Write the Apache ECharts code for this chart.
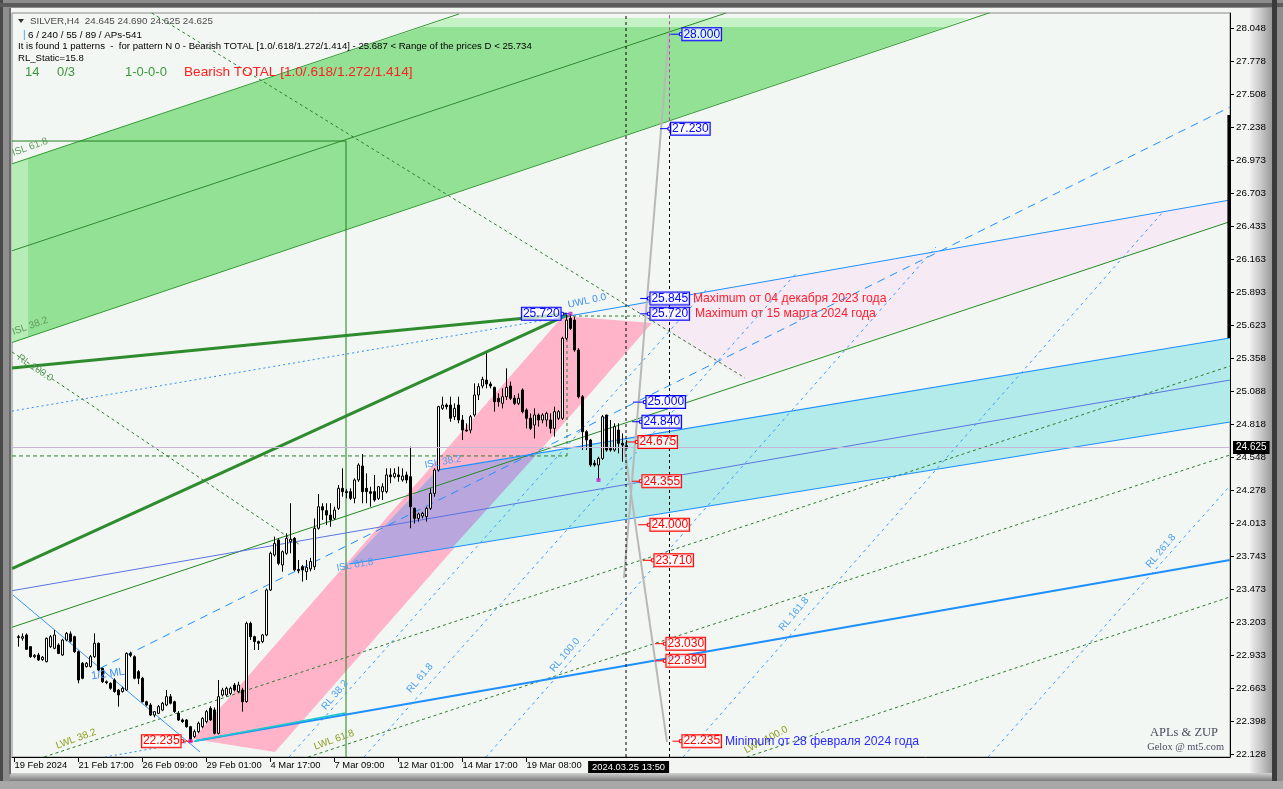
<!DOCTYPE html>
<html><head><meta charset="utf-8">
<script src="https://cdn.jsdelivr.net/npm/echarts@6/dist/echarts.min.js"></script>
<style>html,body{margin:0;padding:0;background:#8e8e8e;}#c{width:1283px;height:789px;}</style>
</head><body><div id="c"></div>
<script>
// ---------- DATA ----------
const xTickValues = [-1, 15, 31, 47, 63, 79, 95, 111, 127];
const xTickLabels = ['19 Feb 2024','21 Feb 17:00','26 Feb 09:00','29 Feb 01:00','4 Mar 17:00','7 Mar 09:00','12 Mar 01:00','14 Mar 17:00','19 Mar 08:00'];
const cursorTime = '2024.03.25 13:50';
const cursorBar = 151.875;
const cursorLabelAt = 142.4;
const yTicks = [28.048,27.778,27.508,27.238,26.973,26.703,26.433,26.163,25.893,25.623,25.358,25.088,24.818,24.548,24.278,24.013,23.743,23.473,23.203,22.933,22.663,22.398,22.128];

// candles: [open, close, low, high], bar index = position in array
const candles = [
[23.087,23.080,23.006,23.101],[23.074,23.087,23.055,23.114],[23.101,22.984,22.979,23.114],[23.006,22.924,22.915,23.010],
[22.924,22.935,22.911,22.945],[22.938,22.897,22.890,22.955],[22.900,22.920,22.890,22.930],[22.883,23.074,22.878,23.080],
[23.006,23.087,22.995,23.101],[22.992,23.101,22.985,23.142],[23.019,22.951,22.945,23.033],[22.938,23.060,22.930,23.070],
[23.060,23.114,23.050,23.125],[23.110,23.050,23.040,23.130],[23.087,22.965,22.955,23.095],[22.965,22.734,22.707,22.975],
[22.870,22.748,22.740,22.880],[22.843,22.870,22.835,22.880],[22.843,22.924,22.835,22.938],[22.924,23.033,22.915,23.114],
[23.033,22.815,22.805,23.040],[22.829,22.720,22.710,22.835],[22.720,22.712,22.700,22.730],[22.707,22.666,22.655,22.715],
[22.734,22.640,22.630,22.748],[22.652,22.612,22.517,22.660],[22.640,22.666,22.630,22.680],[22.652,22.951,22.645,22.960],
[22.951,22.935,22.920,22.965],[22.924,22.748,22.740,22.935],[22.802,22.748,22.700,22.815],[22.748,22.557,22.550,22.760],
[22.557,22.530,22.520,22.565],[22.530,22.448,22.440,22.545],[22.448,22.476,22.430,22.480],[22.462,22.517,22.455,22.530],
[22.489,22.544,22.480,22.555],[22.530,22.598,22.520,22.652],[22.598,22.544,22.535,22.620],[22.557,22.476,22.465,22.565],
[22.462,22.408,22.400,22.480],[22.408,22.394,22.385,22.420],[22.408,22.353,22.345,22.415],[22.353,22.250,22.235,22.360],
[22.272,22.313,22.260,22.330],[22.313,22.381,22.300,22.395],[22.353,22.421,22.340,22.430],[22.394,22.476,22.380,22.490],
[22.503,22.408,22.400,22.520],[22.490,22.299,22.290,22.510],[22.299,22.598,22.290,22.734],[22.612,22.652,22.600,22.670],
[22.612,22.666,22.600,22.680],[22.625,22.666,22.610,22.680],[22.693,22.652,22.640,22.710],[22.639,22.693,22.630,22.720],
[22.652,22.557,22.476,22.670],[22.557,23.196,22.550,23.210],[23.196,23.087,23.060,23.210],[23.087,23.047,22.979,23.095],
[23.047,23.033,22.979,23.055],[23.047,23.101,23.035,23.110],[23.101,23.468,23.090,23.480],[23.468,23.767,23.460,23.780],
[23.753,23.848,23.740,23.903],[23.875,23.685,23.670,23.890],
[23.672,23.780,23.617,23.790],[23.767,23.889,23.755,23.930],[23.862,23.881,23.767,24.175],[23.889,23.631,23.620,23.900],
[23.636,23.625,23.604,23.712],[23.658,23.631,23.536,23.672],[23.617,23.653,23.549,23.712],[23.640,23.700,23.620,23.730],
[23.658,23.971,23.631,24.052],[23.971,24.147,23.960,24.251],[24.147,24.120,24.039,24.175],[24.115,24.079,23.998,24.175],
[24.079,24.039,23.984,24.175],[24.052,24.120,24.039,24.147],[24.134,24.297,24.120,24.324],[24.297,24.270,24.229,24.460],
[24.270,24.262,24.215,24.290],[24.270,24.215,24.202,24.297],[24.215,24.365,24.175,24.378],[24.365,24.487,24.350,24.501],
[24.479,24.270,24.175,24.577],[24.297,24.270,24.175,24.419],[24.270,24.256,24.147,24.310],[24.270,24.202,24.188,24.406],
[24.215,24.310,24.202,24.315],[24.270,24.310,24.202,24.338],[24.270,24.406,24.256,24.460],[24.406,24.392,24.338,24.460],
[24.392,24.419,24.378,24.460],[24.406,24.392,24.351,24.474],[24.365,24.397,24.351,24.460],[24.406,24.365,24.338,24.433],
[24.392,24.147,23.971,24.637],[24.134,24.052,24.010,24.140],[24.052,24.088,24.025,24.098],[24.071,24.093,24.052,24.105],
[24.066,24.134,24.025,24.147],[24.134,24.256,24.120,24.297],[24.256,24.446,24.229,24.460],
[24.446,24.963,24.433,24.970],[24.949,24.976,24.936,25.044],[24.976,24.963,24.940,24.990],[24.976,24.868,24.840,25.044],
[24.881,24.949,24.854,24.990],[24.976,24.854,24.827,25.044],[24.854,24.772,24.691,24.895],[24.772,24.765,24.759,24.827],
[24.772,24.881,24.745,24.895],[24.895,25.058,24.881,25.153],[25.058,25.126,25.017,25.153],[25.131,25.186,25.112,25.207],
[25.180,25.148,25.112,25.398],[25.148,25.131,25.112,25.167],[25.120,25.003,24.922,25.126],[25.031,25.003,24.963,25.071],
[24.990,25.044,24.949,25.112],[25.044,25.120,25.017,25.275],[25.131,25.031,25.017,25.167],[25.031,24.990,24.976,25.058],
[24.990,25.031,24.976,25.071],[25.099,24.922,24.908,25.112],[24.936,24.868,24.786,24.949],[24.868,24.786,24.772,24.908],
[24.813,24.895,24.704,24.949],[24.895,24.854,24.800,24.908],[24.854,24.895,24.827,24.908],[24.854,24.908,24.800,24.922],
[24.854,24.786,24.745,24.908],[24.786,24.922,24.718,24.963],[24.868,24.922,24.854,24.936],[24.868,25.520,24.854,25.533],
[25.520,25.669,25.506,25.710],[25.683,25.601,25.588,25.720],[25.669,25.425,25.411,25.697],[25.425,25.044,25.030,25.440],
[25.044,24.759,24.609,25.058],[24.759,24.691,24.609,24.770],[24.691,24.487,24.473,24.700],[24.501,24.487,24.473,24.528],
[24.487,24.541,24.365,24.555],[24.541,24.881,24.528,24.895],[24.895,24.609,24.596,24.895],[24.623,24.609,24.596,24.854],
[24.609,24.800,24.596,24.827],[24.772,24.664,24.582,24.827],[24.664,24.650,24.514,24.745],[24.645,24.625,24.625,24.690]
];

// overlay objects, points are [bar index, price]
const islUpper = [[-1.625,26.943],[110.125,28.165]];
const islLower = [[-1.625,25.486],[242.875,28.176]];
const islMid = [[-1.625,26.234],[176.9,28.173]];
const boxV = [[81.875,27.129],[81.875,22.106]];
const boxH = [[-1.625,27.129],[81.875,27.129]];
const greenDiag = [[33.3,28.173],[181.625,25.197]];
const thickA = [[-1.625,25.278],[137.125,25.718]];
const thickB = [[-1.625,23.643],[137.125,25.710]];
const uwlDotted = [[-1.625,24.927],[135.5,25.690]];
const uwlSolid = [[135.5,25.690],[302.875,26.648]];
const topDash = [[137.125,25.702],[155.375,25.702]];
const peakDrop = [[137.125,25.710],[137.125,24.553]];
const levelDash = [[-1.625,24.561],[137.125,24.561]];
const rlGreen = [[-1.625,25.409],[70.375,23.835]];
const greenLine = [[-1.625,23.164],[302.625,26.469]];
const lwl382 = [[6.4,22.106],[302.875,25.294]];
const lwl618 = [[72.4,22.106],[302.875,24.569]];
const lwl100 = [[182.1,22.106],[302.875,23.411]];
const cyanTop = [[104.625,24.446],[302.875,25.523]];
const cyanBottom = [[82.625,23.680],[302.875,24.838]];
const midBlue = [[-1.625,23.462],[302.875,25.180]];
const thickBlue = [[44.125,22.236],[302.875,23.713]];
const thickBlueLeft = [[21.625,22.106],[44.125,22.236]];
const halfML = [[20.375,22.829],[302.875,27.406]];
const descBlue = [[-1.375,23.427],[45.375,22.147]];
const tealLine = [[44.125,22.236],[81.625,22.465]];
const rl382 = [[67.625,22.106],[172.125,25.922]];
const rl618 = [[86.375,22.106],[194.375,26.049]];
const rl100 = [[116.875,22.106],[229.375,26.265]];
const rl1618 = [[166.125,22.106],[286.125,26.552]];
const rl2618 = [[242.375,22.106],[302.625,24.308]];
const zupUp = [[151.375,23.566],[162.625,28.010]];
const zupDown = [[151.375,24.650],[162.125,22.228]];
const vCursor1 = [[151.875,22.106],[151.875,28.173]];
const vCursor2 = [[162.75,22.106],[162.75,27.200]];
const vCursor2Top = [[162.75,27.200],[162.75,28.173]];
const rangeBar = [[302.6,27.341],[302.6,25.523]];

const greenBand = [[-1.625,26.943],[101.05,28.059],[231.7,28.059],[-1.625,25.486]];
const greenBandTop = [[101.05,28.059],[107.8,28.132],[237.6,28.132],[231.7,28.059]];
const greenBandEdge = [[-1.625,26.943],[2.375,26.986],[2.375,25.527],[-1.625,25.486]];
const pinkBand = [[136.125,25.702],[158.375,25.645],[64.125,22.147],[43.625,22.253]];
const cyanBand = [[82.625,23.680],[104.625,24.446],[302.875,25.523],[302.875,24.838]];
const overlapBand = [[82.625,23.680],[104.625,24.446],[129.625,24.577],[108.625,23.818]];
const lightPink = [[152.125,25.788],[302.875,26.648],[302.875,26.469],[181.625,25.172]];

const annoTexts = ['ISL 61.8','ISL 38.2','RL 100.0','UWL 0.0','1/2 ML','LWL 38.2','LWL 61.8','LWL 100.0','ISL 38.2','ISL 61.8','RL 38.2','RL 61.8','RL 100.0','RL 161.8','RL 261.8'];
const annoPos = [[2.875,27.080],[2.875,25.620],[4.125,25.278],[142.125,25.824],[22.375,22.783],[14.375,22.253],[78.875,22.245],[186.875,22.245],[106.125,24.512],[84.125,23.672],[79.125,22.612],[100.375,22.750],[136.625,22.938],[193.875,23.272],[285.625,23.786]];

// price tags: [tick start bar, box anchor bar, price]
const tagsBlue = [[163.0,165.6,28.000],[160.4,162.75,27.230],[155.4,157.6,25.845],[155.4,157.6,25.720],[153.6,156.6,25.000],[153.4,155.6,24.840],[137.6,135.9,25.720]];
const tagsRed = [[152.1,154.6,24.675],[153.4,155.6,24.355],[154.9,157.6,24.000],[156.1,158.6,23.710],[159.1,161.6,23.030],[159.1,161.6,22.890],[163.5,165.6,22.235],[43.6,40.9,22.235]];

const notes = ['Maximum от 04 декабря 2023 года','Maximum от 15 марта 2024 года','Minimum от 28 февраля 2024 года'];
const notePos = [[168.6,25.845],[169.1,25.720],[176.6,22.235]];
const extremeDots = [[138,25.720],[43,22.235],[145,24.365]];

// ---------- CHART ----------
const chart = echarts.init(document.getElementById('c'), null, {renderer:'canvas'});
const FONT = "'Liberation Sans', Arial, sans-serif";

function L(pts, color, width, type, z){
  return {type:'line', data:pts, symbol:'none', silent:true, clip:true, animation:false,
          lineStyle:{color:color, width:width, type:type||'solid'}, z:z||2};
}
function P(pts, color, z){
  return {type:'custom', clip:true, silent:true, z:z||1, data:[pts[0]], animation:false,
          renderItem:function(params, api){
            return {type:'polygon', shape:{points:pts.map(function(p){return api.coord(p);})}, style:{fill:color}};
          }};
}
function tagSeries(tags, color){
  return {type:'custom', clip:false, silent:true, z:6, animation:false,
    data:tags.map(function(t){return [t[1], t[2]];}),
    renderItem:function(params, api){
      const t = tags[params.dataIndex];
      const p0 = api.coord([t[0], t[2]]);
      const p1 = api.coord([t[1], t[2]]);
      const right = t[1] > t[0];
      return {type:'group', children:[
        {type:'line', shape:{x1:p0[0],y1:p0[1],x2:p1[0],y2:p1[1]}, style:{stroke:color, lineWidth:1}},
        {type:'rect', shape:{x:p1[0]-1.5,y:p1[1]-1.5,width:3,height:3}, style:{stroke:color, fill:'#ffffff', lineWidth:1}},
        {type:'text', x: right ? p1[0]+1.5 : p1[0]-1.5, y:p1[1],
          style:{text:t[2].toFixed(3), fill:color, font:'12px '+FONT, align: right?'left':'right', verticalAlign:'middle',
                 backgroundColor:'rgba(255,255,255,0.7)', borderColor:color, borderWidth:1, padding:[1,1,0,1], lineHeight:11}}
      ]};
    }};
}
const annoRot = [20,20,-34,12,8,20,20,28,10,10,50,50,50,50,50];
const annoColor = ['#5f9a5f','#5f9a5f','#5f9a5f','#3c8cf0','#3c8cf0','#8c9c1c','#8c9c1c','#8c9c1c','#4aa0f0','#4aa0f0','#4aa0f0','#4aa0f0','#4aa0f0','#4aa0f0','#4aa0f0'];
const annoSize = [10,10,10,10,11,10,10,10,10,10,10,10,10,10,10];

const series = [
  P(greenBand, '#93e195'), P(greenBandTop, '#c4f2c4'), P(greenBandEdge, '#b6ecb6'),
  P(lightPink, '#f6ebf4'),
  P(pinkBand, '#ffb4c9'), P(cyanBand, '#b3ebea'), P(overlapBand, '#b9a6dc'),
  L(islUpper, '#2f9a2f', 1), L(islLower, '#2f9a2f', 1), L(islMid, '#2f8a2f', 1),
  L(boxV, '#1f801f', 1), L(boxH, '#1f801f', 1),
  L(greenDiag, '#2e7d2e', 1, [3,3]),
  L(thickA, '#2e8b2e', 3), L(thickB, '#2e8b2e', 3),
  L(uwlDotted, '#2b8fff', 1, [2,3]), L(uwlSolid, '#1e90ff', 1),
  L(topDash, '#2e7d2e', 1, [3,3]), L(peakDrop, '#2e7d2e', 1, [3,3]), L(levelDash, '#2e7d2e', 1, [4,3]),
  L(rlGreen, '#2e7d2e', 1, [3,3]),
  L(greenLine, '#228b22', 1),
  L(lwl382, '#2e7d2e', 1, [3,3]), L(lwl618, '#2e7d2e', 1, [3,3]), L(lwl100, '#2e7d2e', 1, [3,3]),
  L(cyanTop, '#1e90ff', 1.2), L(cyanBottom, '#1e90ff', 1.2), L(midBlue, '#5b74e0', 1),
  L(thickBlue, '#1e90ff', 2), L(thickBlueLeft, '#1e90ff', 1, [2,3]),
  L(halfML, '#1e90ff', 1, [8,6]), L(descBlue, '#3d95f0', 1), L(tealLine, '#20c8c8', 1.5),
  L(rl382, '#3a9aff', 1, [3,4]), L(rl618, '#3a9aff', 1, [3,4]), L(rl100, '#3a9aff', 1, [3,4]),
  L(rl1618, '#3a9aff', 1, [3,4]), L(rl2618, '#3a9aff', 1, [3,4]),
  L(zupUp, '#b8b8b8', 2), L(zupDown, '#b8b8b8', 2),
  L(vCursor1, '#000000', 1, [3,3], 4), L(vCursor2, '#000000', 1, [3,3], 4), L(vCursor2Top, '#b040b0', 1, [3,3], 4),
  L(rangeBar, '#000000', 3, 'solid', 5),
  {
    type:'candlestick', z:3, silent:true, animation:false, barWidth:3,
    data: candles.map(function(c, i){ return [i, c[0], c[1], c[2], c[3]]; }),
    itemStyle:{color:'#ffffff', color0:'#000000', borderColor:'#000000', borderColor0:'#000000', borderWidth:1},
    markLine:{silent:true, symbol:['none','none'], animation:false,
      data:[{yAxis: candles[candles.length-1][1]}],
      lineStyle:{color:'#c9b6d6', width:1, type:'solid'},
      label:{show:true, position:'end', distance:3, formatter: candles[candles.length-1][1].toFixed(3),
             color:'#ffffff', backgroundColor:'#000000', padding:[2,3,1,3], fontSize:10, fontFamily:FONT}}
  },
  {type:'scatter', z:5, silent:true, animation:false, symbol:'rect', symbolSize:4, itemStyle:{color:'#d020d0'}, data:extremeDots},
  {type:'custom', clip:false, silent:true, z:5, animation:false, data:annoPos,
    renderItem:function(params, api){
      const i = params.dataIndex; const p = api.coord(annoPos[i]);
      return {type:'text', x:p[0], y:p[1], rotation: annoRot[i]*Math.PI/180,
        style:{text:annoTexts[i], fill:annoColor[i], font: annoSize[i]+'px '+FONT, align:'center', verticalAlign:'middle'}};
    }},
  {type:'custom', clip:false, silent:true, z:5, animation:false, data:notePos,
    renderItem:function(params, api){
      const i = params.dataIndex; const p = api.coord(notePos[i]);
      return {type:'text', x:p[0], y:p[1],
        style:{text:notes[i], fill: i<2 ? '#ff2030' : '#2a2aff', font:'12.2px '+FONT, align:'left', verticalAlign:'middle'}};
    }},
  tagSeries(tagsBlue, '#0000ff'),
  tagSeries(tagsRed, '#ff0000')
];

const graphic = [
  {type:'rect', z:-10, shape:{x:0,y:0,width:1283,height:789}, style:{fill:'#8e8e8e'}},
  {type:'rect', z:-9, shape:{x:0,y:0,width:3,height:789}, style:{fill:'#4a4a4a'}},
  {type:'rect', z:-9, shape:{x:0,y:3,width:1283,height:4}, style:{fill:'#5a5a5a'}},
  {type:'rect', z:-9, shape:{x:10,y:8,width:1262,height:768}, style:{fill:'#f2f5f2'}},
  {type:'rect', z:-8, shape:{x:1250,y:8,width:22,height:768},
    style:{fill:new echarts.graphic.LinearGradient(0,0,1,0,[{offset:0,color:'#f0eef0'},{offset:0.5,color:'#c8c8c8'},{offset:1,color:'#9a9a9a'}])}},
  {type:'rect', z:-8, shape:{x:10,y:773,width:1262,height:8},
    style:{fill:new echarts.graphic.LinearGradient(0,0,0,1,[{offset:0,color:'#d0d0d0'},{offset:1,color:'#7a7a7a'}])}},
  {type:'rect', z:-9, shape:{x:1272,y:0,width:5,height:789}, style:{fill:'#3a3a3a'}},
  {type:'rect', z:-9, shape:{x:0,y:781,width:1283,height:8}, style:{fill:'#a8a8a8'}},
  {type:'rect', z:-7, shape:{x:9,y:8,width:2,height:766}, style:{fill:'#6a6a6a'}},
  {type:'polygon', z:100, shape:{points:[[18,19],[24,19],[21,23]]}, style:{fill:'#333333'}},
  {type:'text', z:100, x:30, y:21.5, style:{text:'SILVER,H4  24.645 24.690 24.625 24.625', fill:'#4a4a4a', font:'9.8px '+FONT, verticalAlign:'middle'}},
  {type:'text', z:100, x:23, y:35, style:{text:'|', fill:'#3c9cf0', font:'10px '+FONT, verticalAlign:'middle'}},
  {type:'text', z:100, x:28, y:35, style:{text:'6 / 240 / 55 / 89 / APs-541', fill:'#000000', font:'9.8px '+FONT, verticalAlign:'middle'}},
  {type:'text', z:100, x:18, y:46.5, style:{text:'It is found 1 patterns  -  for pattern N 0 - Bearish TOTAL [1.0/.618/1.272/1.414] - 25.687 < Range of the prices D < 25.734', fill:'#000000', font:'9.6px '+FONT, verticalAlign:'middle'}},
  {type:'text', z:100, x:18, y:58, style:{text:'RL_Static=15.8', fill:'#000000', font:'9.6px '+FONT, verticalAlign:'middle'}},
  {type:'text', z:100, x:25, y:72, style:{text:'14', fill:'#3a9a3a', font:'13px '+FONT, verticalAlign:'middle'}},
  {type:'text', z:100, x:57, y:72, style:{text:'0/3', fill:'#3a9a3a', font:'13px '+FONT, verticalAlign:'middle'}},
  {type:'text', z:100, x:125, y:72, style:{text:'1-0-0-0', fill:'#3a9a3a', font:'13px '+FONT, verticalAlign:'middle'}},
  {type:'text', z:100, x:184, y:72, style:{text:'Bearish TOTAL [1.0/.618/1.272/1.414]', fill:'#ff2020', font:'13.6px '+FONT, verticalAlign:'middle'}},
  {type:'text', z:100, x:1218, y:733, style:{text:'APLs & ZUP', fill:'#4a4a62', font:'12.5px "Liberation Serif", serif', align:'right', verticalAlign:'middle'}},
  {type:'text', z:100, x:1224, y:747, style:{text:'Gelox @ mt5.com', fill:'#4a4a62', font:'10.4px "Liberation Serif", serif', align:'right', verticalAlign:'middle'}}
];

chart.setOption({
  animation:false,
  backgroundColor:'#8e8e8e',
  graphic: graphic,
  grid:{left:12, right:53, top:13, bottom:32, show:true, backgroundColor:'#f3f7f3', borderColor:'#8a8a8a', borderWidth:1, z:0},
  xAxis:{type:'value', min:-1.625, max:302.875,
    axisLine:{show:true, onZero:false, lineStyle:{color:'#000'}},
    axisTick:{show:true, customValues:xTickValues, length:5, lineStyle:{color:'#000'}},
    splitLine:{show:false},
    axisLabel:{customValues: xTickValues.concat([cursorLabelAt]), align:'left', margin:4, color:'#000', fontSize:9.4, fontFamily:FONT,
      formatter:function(v){
        const k = xTickValues.findIndex(function(t){return Math.abs(t-v)<0.01;});
        return k>=0 ? xTickLabels[k] : '{hl|'+cursorTime+'}';
      },
      rich:{hl:{backgroundColor:'#000', color:'#fff', padding:[2,4,1,4], fontSize:9.4, fontFamily:FONT}}}
  },
  yAxis:{type:'value', position:'right', min:22.106, max:28.173, scale:true,
    axisLine:{show:true, onZero:false, lineStyle:{color:'#000'}},
    axisTick:{show:true, customValues:yTicks, length:4, lineStyle:{color:'#000'}},
    splitLine:{show:false},
    axisLabel:{customValues:yTicks, margin:6, color:'#000', fontSize:9.8, fontFamily:FONT,
      formatter:function(v){return v.toFixed(3);}}
  },
  series: series
});
</script>
</body></html>
